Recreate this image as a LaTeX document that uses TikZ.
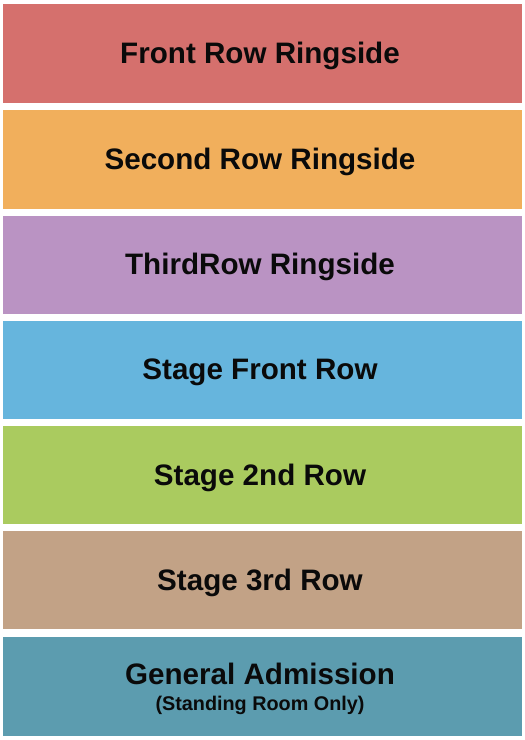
\documentclass[tikz,border=0pt]{standalone}
\usepackage{fontspec}
\setmainfont{Liberation Sans}
\definecolor{cA}{HTML}{D5706D}
\definecolor{cB}{HTML}{F1AF5C}
\definecolor{cC}{HTML}{BA93C3}
\definecolor{cD}{HTML}{66B5DD}
\definecolor{cE}{HTML}{AACB5F}
\definecolor{cF}{HTML}{C2A286}
\definecolor{cG}{HTML}{5C9CAF}
\definecolor{txt}{HTML}{0A0A0A}
\tikzset{
  band/.style={draw=none,fill=#1},
  lbl/.style={text=txt,font=\fontsize{29.6}{34}\selectfont\bfseries,inner sep=0pt,anchor=base},
  sublbl/.style={text=txt,font=\fontsize{19.8}{24}\selectfont\bfseries,inner sep=0pt,anchor=base}
}
\begin{document}
\begin{tikzpicture}[x=1pt,y=-1pt]
\useasboundingbox (0,0) rectangle (525,740);
\fill[white] (0,0) rectangle (525,740);
\fill[band=cA] (3,4) rectangle (522,102.5);
\fill[band=cB] (3,110) rectangle (522,208.5);
\fill[band=cC] (3,215.5) rectangle (522,313.5);
\fill[band=cD] (3,320.5) rectangle (522,418.5);
\fill[band=cE] (3,425.5) rectangle (522,524);
\fill[band=cF] (3,531) rectangle (522,629);
\fill[band=cG] (3,637) rectangle (522,736);
\node[lbl] (a) at (260,63) {Front Row Ringside};
\node[lbl] (b) at (260,169) {Second Row Ringside};
\node[lbl] (c) at (260,274.5) {ThirdRow Ringside};
\node[lbl] (d) at (260,379.5) {Stage Front Row};
\node[lbl] (e) at (260,485) {Stage 2nd Row};
\node[lbl] (f) at (260,590) {Stage 3rd Row};
\node[lbl] (g) at (260,684) {General Admission};
\node[sublbl] (h) at (260,710) {(Standing Room Only)};
\end{tikzpicture}
\end{document}
